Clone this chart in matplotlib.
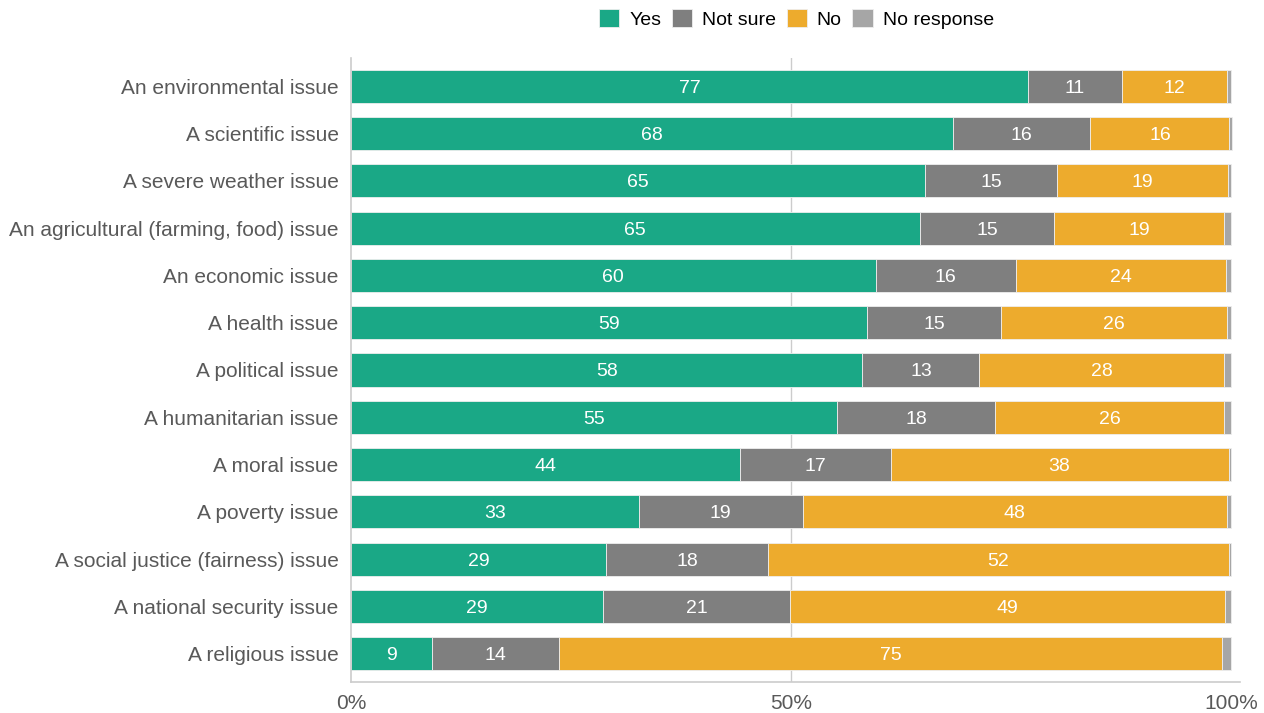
import matplotlib.pyplot as plt
import numpy as np

plt.rcParams['font.family'] = ['Liberation Sans', 'DejaVu Sans']

# Categories, top to bottom
categories = [
    "An environmental issue",
    "A scientific issue",
    "A severe weather issue",
    "An agricultural (farming, food) issue",
    "An economic issue",
    "A health issue",
    "A political issue",
    "A humanitarian issue",
    "A moral issue",
    "A poverty issue",
    "A social justice (fairness) issue",
    "A national security issue",
    "A religious issue",
]

# Percentages
yes = [76.9, 68.4, 65.2, 64.6, 59.6, 58.6, 58.1, 55.2, 44.2, 32.7, 29.0, 28.6, 9.2]
not_sure = [10.7, 15.6, 15.0, 15.3, 15.9, 15.3, 13.3, 18.0, 17.1, 18.6, 18.4, 21.3, 14.4]
no = [11.9, 15.8, 19.4, 19.3, 23.9, 25.6, 27.8, 26.0, 38.4, 48.2, 52.3, 49.4, 75.4]
no_response = [0.5, 0.3, 0.4, 0.8, 0.6, 0.5, 0.8, 0.8, 0.3, 0.5, 0.3, 0.7, 1.0]

series = [
    ("Yes", yes, "#1aa886", True),
    ("Not sure", not_sure, "#7f7f7f", True),
    ("No", no, "#edab2d", True),
    ("No response", no_response, "#a6a6a6", False),
]

fig = plt.figure(figsize=(12.64, 7.13), dpi=100)
ax = fig.add_axes([0.2777, 0.0435, 0.981 - 0.2777, 0.9187 - 0.0435])

y = np.arange(len(categories))
left = np.zeros(len(categories))
for name, vals, color, labeled in series:
    vals = np.array(vals)
    bars = ax.barh(y, vals, left=left, height=0.7, color=color,
                   edgecolor="#eeeeee", linewidth=0.6, label=name, zorder=2)
    if labeled:
        for b, v in zip(bars, vals):
            ax.text(b.get_x() + b.get_width() / 2, b.get_y() + b.get_height() / 2,
                    f"{round(v):d}", ha="center", va="center_baseline",
                    color="white", fontsize=14, zorder=3)
    left += vals

ax.set_ylim(len(categories) - 0.4, -0.6)
ax.set_xlim(0, 101)
ax.set_yticks(y)
ax.set_yticklabels(categories, fontsize=15, color="#595959")
ax.set_xticks([0, 50, 100])
ax.set_xticklabels(["0%", "50%", "100%"], fontsize=15, color="#595959")
ax.tick_params(axis="y", length=0, pad=9)
ax.tick_params(axis="x", length=0, pad=9)

ax.axvline(50, color="#cccccc", linewidth=1, zorder=1)
for s in ["top", "right"]:
    ax.spines[s].set_visible(False)
for s in ["left", "bottom"]:
    ax.spines[s].set_color("#cccccc")
    ax.spines[s].set_linewidth(1.2)

fig.legend(loc="upper center", bbox_to_anchor=(0.63, 1.012), ncol=4,
           frameon=False, fontsize=14, handlelength=1.05, handleheight=1.05,
           handletextpad=0.5, columnspacing=0.55)

fig.savefig("out.png", dpi=100)
